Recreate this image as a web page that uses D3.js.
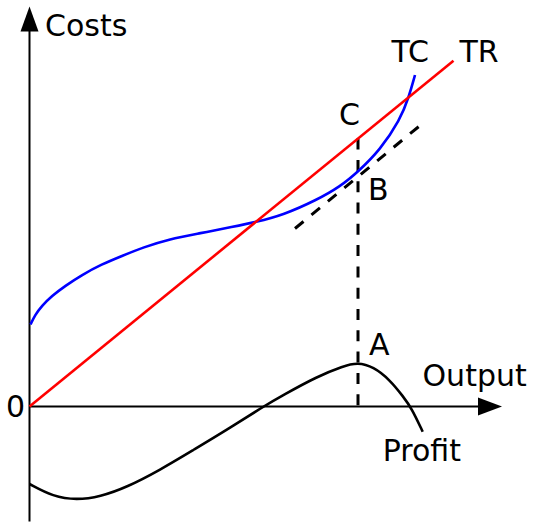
<!DOCTYPE html>
<html lang="en">
  <head>
    <meta charset="utf-8" />
    <title>Profit maximisation</title>
    <style>
      body {
        margin: 0;
        background: white;
      }
      text {
        font-family: "DejaVu Sans", sans-serif;
        font-size: 30px;
        fill: black;
      }
    </style>
    <script src="https://d3js.org/d3.v7.min.js"></script>
  </head>
  <body>
    <svg width="540" height="530"></svg>
    <script>
      // values (output, money)
      var price = 0.8156; // slope of TR
      var tcCurve = [
        [0.1, 8.2], [0.55, 9.15], [1.22, 10.05], [2.22, 11.05], [3.55, 12.05],
        [5.22, 13.15], [7.22, 14.22], [9.22, 15.05], [11.38, 15.92],
        [14.0, 16.75], [17.05, 17.32], [20.38, 17.98], [22.55, 18.42],
        [25.38, 19.15], [28.72, 20.65], [31.05, 21.98], [32.88, 23.5],
        [35.05, 25.65], [37.05, 28.65], [37.95, 30.98], [38.55, 33.15]
      ];
      var trRange = [0, 42.4];
      var profitCurve = [
        [0, -7.75], [2.38, -9.02], [4.72, -9.35], [7.05, -9.02], [9.72, -8.08],
        [13.05, -6.35], [16.38, -4.35], [19.72, -2.35], [23.38, 0],
        [25.38, 1.15], [28.72, 2.98], [31.38, 4.05], [32.82, 4.4],
        [34.38, 3.98], [36.05, 2.65], [37.38, 0.98], [38.22, -0.18],
        [39.32, -2.52]
      ];
      var tangentLine = [[26.55, 17.8], [39.3, 28.3]];
      var qStar = 32.85; // output where profit peaks
      var profitMax = 4.32;
      var tcAtStar = 23.5;

      var svg = d3.select("svg");

      // 1 unit = 10px
      var x = d3.scaleLinear().domain([0, 47.25]).range([29.5, 502]);
      var y = d3.scaleLinear().domain([-11.5, 40]).range([521.5, 6.5]);

      var line = d3
        .line()
        .x((d) => x(d[0]))
        .y((d) => y(d[1]))
        .curve(d3.curveBasis);

      // axes
      svg.append("line")
        .attr("x1", x(0)).attr("x2", x(0))
        .attr("y1", y(-11.5)).attr("y2", y(38))
        .attr("stroke", "black").attr("stroke-width", 2);
      svg.append("line")
        .attr("x1", x(0)).attr("x2", x(45.5))
        .attr("y1", y(0)).attr("y2", y(0))
        .attr("stroke", "black").attr("stroke-width", 2);

      // arrow heads
      var yTip = [x(0), y(40)];
      svg.append("path")
        .attr("d", `M${yTip[0]},${yTip[1]} L${yTip[0] + 9},${yTip[1] + 25} L${yTip[0] - 9},${yTip[1] + 25} Z`)
        .attr("fill", "black");
      var xTip = [x(47.25), y(0)];
      svg.append("path")
        .attr("d", `M${xTip[0]},${xTip[1]} L${xTip[0] - 24},${xTip[1] - 9} L${xTip[0] - 24},${xTip[1] + 9} Z`)
        .attr("fill", "black");

      // dashed helpers
      svg.append("line")
        .attr("x1", x(qStar)).attr("x2", x(qStar))
        .attr("y1", y(price * qStar)).attr("y2", y(0))
        .attr("stroke", "black").attr("stroke-width", 3)
        .attr("stroke-dasharray", "11,10.3");
      svg.append("path")
        .attr("d", d3.line().x((d) => x(d[0])).y((d) => y(d[1]))(tangentLine))
        .attr("fill", "none")
        .attr("stroke", "black").attr("stroke-width", 3)
        .attr("stroke-dasharray", "11,10.3");

      // curves
      svg.append("path")
        .attr("d", line(profitCurve))
        .attr("fill", "none")
        .attr("stroke", "black").attr("stroke-width", 2.6);
      svg.append("path")
        .attr("d", line(tcCurve))
        .attr("fill", "none")
        .attr("stroke", "#0000ff").attr("stroke-width", 2.6);
      svg.append("line")
        .attr("x1", x(trRange[0])).attr("y1", y(price * trRange[0]))
        .attr("x2", x(trRange[1])).attr("y2", y(price * trRange[1]))
        .attr("stroke", "#ff0000").attr("stroke-width", 2.6);

      // labels, placed next to the points they name
      var tcEnd = tcCurve[tcCurve.length - 1];
      var prEnd = profitCurve[profitCurve.length - 1];
      var labels = [
        { t: "Costs", px: x(0) + 15.5, py: y(40) + 29 },
        { t: "TC", px: x(tcEnd[0]) - 23.5, py: y(tcEnd[1]) - 13 },
        { t: "TR", px: x(trRange[1]) + 6, py: y(price * trRange[1]) + 1 },
        { t: "C", px: x(qStar) - 19, py: y(price * qStar) - 13.5 },
        { t: "B", px: x(qStar) + 10, py: y(tcAtStar) + 28.5 },
        { t: "A", px: x(qStar) + 11, py: y(profitMax) - 8 },
        { t: "Output", px: x(47.25) - 79.5, py: y(0) - 20.5 },
        { t: "Profit", px: x(prEnd[0]) - 40, py: y(prEnd[1]) + 29 },
        { t: "0", px: x(0) - 23.5, py: y(0) + 10 }
      ];
      svg.selectAll("text.lbl")
        .data(labels)
        .enter()
        .append("text")
        .attr("class", "lbl")
        .attr("x", (d) => d.px)
        .attr("y", (d) => d.py)
        .text((d) => d.t);
    </script>
  </body>
</html>
